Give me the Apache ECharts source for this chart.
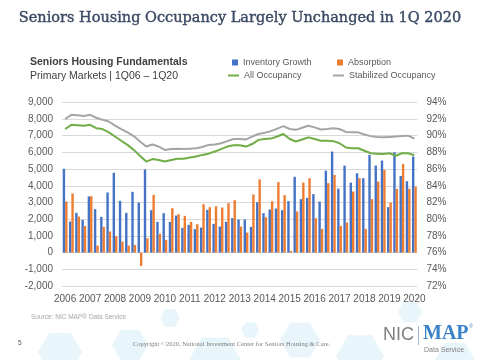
<!DOCTYPE html>
<html>
<head>
<meta charset="utf-8">
<script src="https://cdn.jsdelivr.net/npm/echarts@6/dist/echarts.min.js"></script>
<style>
html,body{margin:0;padding:0;background:#fff;}
#c{width:480px;height:360px;}
</style>
</head>
<body>
<div id="c"></div>
<script>
// ---- data ----
var quarters = [];
var years = ['06','07','08','09','10','11','12','13','14','15','16','17','18','19','20'];
years.forEach(function(y){ for (var q=1;q<=4;q++){ quarters.push(q+'Q'+y); } });
quarters = quarters.slice(0, 57); // 1Q06 .. 1Q20

var xTickLabels = ['2006','2007','2008','2009','2010','2011','2012','2013','2014','2015','2016','2017','2018','2019','2020'];

var inventoryGrowth = [
  5020,1860,2380,1960, 3360,2600,2140,3600, 4780,3100,2380,3640,
  3000,4980,2540,1840, 2360,1840,2220,1480, 1660,1400,1500,2560,
  1720,1560,1840,2060, 1980,1980,1540,3020, 2360,2580,2640,2540,
  3080,4540,3200,3280, 3500,3055,4910,6050, 3830,5210,4190,4750,
  4455,5850,5210,5510, 2720,6010,4590,4275, 5750
];
var absorption = [
  3060,3540,2160,1600, 3380,420,1540,1260, 980,660,420,460,
  -800,860,3460,1120, 760,2660,2300,2200, 1840,1700,2900,2720,
  2780,2700,2960,3140, 1560,1200,3480,4380, 2120,3080,4220,3440,
  100,2460,4190,4455, 2060,1420,4155,4650, 1600,1800,3655,4455,
  1420,3200,4250,4950, 3000,3815,5310,3830, 3950
];
var allOccupancy = [
  90.8,91.3,91.25,91.2, 91.3,90.9,90.8,90.4, 89.9,89.4,88.9,88.3,
  87.6,86.9,87.2,87.1, 86.9,87.1,87.25,87.25, 87.4,87.5,87.7,87.85,
  88.1,88.4,88.7,88.85, 88.85,88.7,89.0,89.5, 89.6,89.65,89.9,90.2,
  89.6,89.3,89.55,89.8, 89.6,89.4,89.4,89.35, 89.1,88.6,88.5,88.5,
  88.2,87.9,87.85,87.8, 87.9,87.6,87.9,87.9, 87.65
];
var stabilizedOccupancy = [
  92.0,92.5,92.45,92.35, 92.5,92.15,91.9,91.7, 91.2,90.8,90.4,89.95,
  89.3,88.7,88.95,88.7, 88.3,88.4,88.45,88.4, 88.45,88.5,88.65,88.9,
  88.95,89.1,89.35,89.6, 89.6,89.55,89.9,90.2, 90.35,90.55,90.85,91.15,
  90.8,90.7,90.95,91.2, 91.0,90.75,90.8,90.9, 90.8,90.45,90.4,90.4,
  90.15,89.95,89.85,89.8, 89.85,89.9,89.95,90.0, 89.65
];

// ---- chart ----
var chart = echarts.init(document.getElementById('c'), null, {renderer:'canvas'});
var txt = '#595959';
var font = 'Liberation Sans, Arial, sans-serif';

function hex(cx, cy, r){
  var pts=[]; for(var k=0;k<6;k++){var a=Math.PI/3*k; pts.push([cx+r*Math.cos(a), cy+r*Math.sin(a)]);} return pts;
}
var deco = [[60,352,22],[130,345,18],[215,360,26],[300,340,20],[360,356,24],[170,318,10],[410,312,12],[250,330,9],[455,360,20]];
var graphics = deco.map(function(d){
  return {type:'polygon', silent:true, z:-10, shape:{points:hex(d[0],d[1],d[2])}, style:{fill:'rgba(190,225,240,0.35)'}};
});
graphics = graphics.concat([
  {type:'text', left:'center', top:11, style:{text:'Seniors Housing Occupancy Largely Unchanged in 1Q 2020', font:'14.5px "DejaVu Serif", serif', fill:'#3b4a63', stroke:'#3b4a63', lineWidth:0.4}},
  {type:'text', left:30, top:57, style:{text:'Seniors Housing Fundamentals', font:'bold 10.5px '+font, fill:'#404040'}},
  {type:'text', left:30, top:71, style:{text:'Primary Markets | 1Q06 \u2013 1Q20', font:'10.5px '+font, fill:'#404040'}},
  {type:'text', left:31, top:314, style:{text:'Source: NIC MAP\u00ae Data Service', font:'6.5px '+font, fill:'#a6a6a6'}},
  {type:'text', left:18, top:340, style:{text:'5', font:'6.5px '+font, fill:'#595959'}},
  {type:'text', left:133, top:341, style:{text:'Copyright \u00a92020, National Investment Center for Seniors Housing & Care.', font:'6.5px "Liberation Serif", serif', fill:'#7f7f7f'}},
  {type:'text', left:383, top:326, style:{text:'NIC', font:'18px '+font, fill:'#7f7f7f'}},
  {type:'rect', shape:{x:418, y:326, width:1, height:19}, style:{fill:'#9fb8d0'}},
  {type:'text', left:423, top:324, style:{text:'MAP', font:'bold 20px "Liberation Serif", serif', fill:'#3b82c8'}},
  {type:'text', left:469, top:324, style:{text:'\u00ae', font:'5px '+font, fill:'#3b82c8'}},
  {type:'text', left:424, top:347, style:{text:'Data Service', font:'7px '+font, fill:'#7f7f7f'}}
]);

function legendItem(name, left, top, icon, w, h){
  return {data:[{name:name, icon:icon}], left:left, top:top, itemWidth:w, itemHeight:h, itemGap:4, padding:0,
          textStyle:{fontSize:9, color:txt, fontFamily:font}, selectedMode:false};
}

var option = {
  backgroundColor:'#ffffff',
  animation:false,
  graphic: graphics,
  legend: [
    legendItem('Inventory Growth', 232, 58, 'rect', 6, 6),
    legendItem('Absorption', 337, 58, 'rect', 6, 6),
    legendItem('All Occupancy', 228, 71, 'rect', 11, 2),
    legendItem('Stabilized Occupancy', 333, 71, 'rect', 11, 2)
  ],
  grid:{left:62, right:62.5, top:102.3, bottom:74, containLabel:false},
  xAxis:{
    type:'category', data:quarters, boundaryGap:true,
    axisLine:{show:false}, axisTick:{show:false},
    axisLabel:{interval:3, color:txt, fontSize:10, fontFamily:font, margin:8,
      formatter:function(v, idx){ return xTickLabels[Math.floor(idx/4)] || ''; }}
  },
  yAxis:[
    {type:'value', min:-2000, max:9000, interval:1000,
     axisLine:{show:false}, axisTick:{show:false},
     splitLine:{lineStyle:{color:'#d9d9d9', width:1}},
     axisLabel:{color:txt, fontSize:10, fontFamily:font, margin:9,
       formatter:function(v){ return v.toLocaleString('en-US'); }}},
    {type:'value', min:72, max:94, interval:2,
     axisLine:{show:false}, axisTick:{show:false}, splitLine:{show:false},
     axisLabel:{color:txt, fontSize:10, fontFamily:font, margin:9,
       formatter:function(v){ return v + '%'; }}}
  ],
  series:[
    {name:'Inventory Growth', type:'bar', data:inventoryGrowth, yAxisIndex:0, barWidth:2.4, barGap:'0%',
     itemStyle:{color:'#4472c4'}},
    {name:'Absorption', type:'bar', data:absorption, yAxisIndex:0, barWidth:2.4, barGap:'0%',
     itemStyle:{color:'#ed7d31'}},
    {name:'All Occupancy', type:'line', data:allOccupancy, yAxisIndex:1, showSymbol:false, symbol:'none',
     lineStyle:{color:'#70ad47', width:2}, itemStyle:{color:'#70ad47'}},
    {name:'Stabilized Occupancy', type:'line', data:stabilizedOccupancy, yAxisIndex:1, showSymbol:false, symbol:'none',
     lineStyle:{color:'#a5a5a5', width:2}, itemStyle:{color:'#a5a5a5'}}
  ]
};
chart.setOption(option);
</script>
</body>
</html>
